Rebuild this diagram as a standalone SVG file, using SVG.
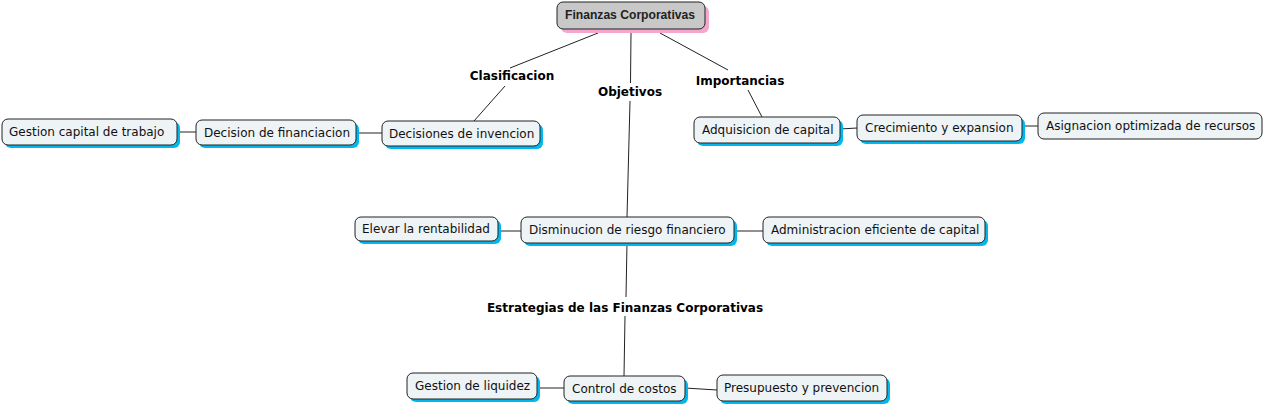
<svg xmlns="http://www.w3.org/2000/svg" width="1264" height="408" viewBox="0 0 1264 408">
<style>
.sh{fill:#00b8f0}
.bx{fill:#eef3f5;stroke:#222;stroke-width:1}
.t{font-family:"DejaVu Sans",Verdana,sans-serif;font-size:12px;fill:#111}
.lb{font-family:"DejaVu Sans",Verdana,sans-serif;font-size:12px;font-weight:bold;fill:#000;text-anchor:middle}
.ln{stroke:#222;stroke-width:1;fill:none}
</style>
<rect width="1264" height="408" fill="#fff"/>
<g id="connectors">
<path class="ln" d="M598 33 L510 68 M505 86 L474 121"/>
<path class="ln" d="M631 33 L630.5 83 M630 101 L627 217"/>
<path class="ln" d="M660 33 L728 70 M748 90 L762 117"/>
<path class="ln" d="M627 243 L626 297 M625 316 L624 376"/>
<path class="ln" d="M177 132 L196 132 M356 133 L382 133 M840 129 L857 128 M1022 126 L1038 126 M498 231 L521 231 M734 231 L763 231 M537 388 L564 388 M685 388 L717 390"/>
<text class="lb" x="512" y="80">Clasificacion</text>
<text class="lb" x="630" y="96">Objetivos</text>
<text class="lb" x="740" y="85">Importancias</text>
<text class="lb" x="625" y="312">Estrategias de las Finanzas Corporativas</text>
</g>
<g id="root">
<rect x="561" y="6" width="148" height="27" rx="6" fill="#f4a6cc"/>
<rect x="557" y="2" width="148" height="27" rx="6" fill="#c8c8c8" stroke="#222"/>
<text x="565" y="19" font-family="'Liberation Sans',Arial,sans-serif" font-size="12.5" font-weight="bold" fill="#222" textLength="130" lengthAdjust="spacingAndGlyphs">Finanzas Corporativas</text>
</g>
<g id="n-gestion-capital">
<rect class="sh" x="5" y="122" width="175" height="26" rx="6"/>
<rect class="bx" x="2" y="119" width="175" height="26" rx="6"/>
<text class="t" x="9" y="136">Gestion capital de trabajo</text>
</g>
<g id="n-decision-financiacion">
<rect class="sh" x="199" y="123" width="160" height="25" rx="6"/>
<rect class="bx" x="196" y="120" width="160" height="25" rx="6"/>
<text class="t" x="204" y="137">Decision de financiacion</text>
</g>
<g id="n-decisiones-invencion">
<rect class="sh" x="385" y="124" width="158" height="25" rx="6"/>
<rect class="bx" x="382" y="121" width="158" height="25" rx="6"/>
<text class="t" x="389" y="138">Decisiones de invencion</text>
</g>
<g id="n-adquisicion">
<rect class="sh" x="697" y="120" width="146" height="26" rx="6"/>
<rect class="bx" x="694" y="117" width="146" height="26" rx="6"/>
<text class="t" x="702" y="134">Adquisicion de capital</text>
</g>
<g id="n-crecimiento">
<rect class="sh" x="860" y="118" width="165" height="26" rx="6"/>
<rect class="bx" x="857" y="115" width="165" height="26" rx="6"/>
<text class="t" x="865" y="132">Crecimiento y expansion</text>
</g>
<g id="n-asignacion">
<rect class="bx" x="1038" y="113" width="224" height="26" rx="6"/>
<text class="t" x="1046" y="130">Asignacion optimizada de recursos</text>
</g>
<g id="n-elevar">
<rect class="sh" x="358" y="220" width="143" height="24" rx="6"/>
<rect class="bx" x="355" y="217" width="143" height="24" rx="6"/>
<text class="t" x="362" y="233">Elevar la rentabilidad</text>
</g>
<g id="n-disminucion">
<rect class="sh" x="524" y="220" width="213" height="26" rx="6"/>
<rect class="bx" x="521" y="217" width="213" height="26" rx="6"/>
<text class="t" x="529" y="234">Disminucion de riesgo financiero</text>
</g>
<g id="n-administracion">
<rect class="sh" x="766" y="220" width="222" height="26" rx="6"/>
<rect class="bx" x="763" y="217" width="222" height="26" rx="6"/>
<text class="t" x="771" y="234">Administracion eficiente de capital</text>
</g>
<g id="n-gestion-liquidez">
<rect class="sh" x="410" y="376" width="130" height="26" rx="6"/>
<rect class="bx" x="407" y="373" width="130" height="26" rx="6"/>
<text class="t" x="415" y="390">Gestion de liquidez</text>
</g>
<g id="n-control">
<rect class="sh" x="567" y="379" width="121" height="25" rx="6"/>
<rect class="bx" x="564" y="376" width="121" height="25" rx="6"/>
<text class="t" x="572" y="393">Control de costos</text>
</g>
<g id="n-presupuesto">
<rect class="sh" x="720" y="378" width="170" height="26" rx="6"/>
<rect class="bx" x="717" y="375" width="170" height="26" rx="6"/>
<text class="t" x="724" y="392">Presupuesto y prevencion</text>
</g>
</svg>
